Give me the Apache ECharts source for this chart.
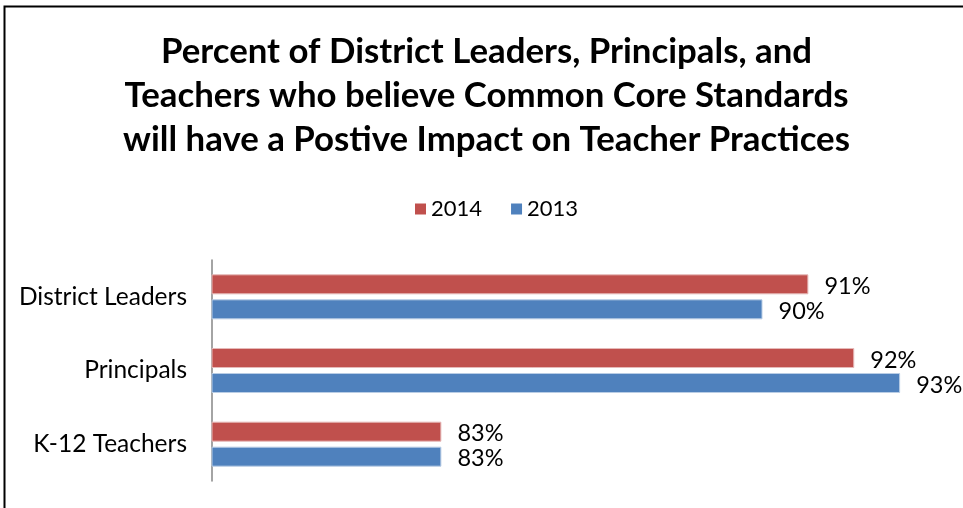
<!DOCTYPE html>
<html>
<head>
<meta charset="utf-8">
<script src="https://cdn.jsdelivr.net/npm/echarts@6/dist/echarts.min.js"></script>
<style>
html,body{margin:0;padding:0;background:#fff;}
#chart{width:963px;height:508px;}
</style>
</head>
<body>
<div id="chart"></div>
<script>
const categories = ['District Leaders', 'Principals', 'K-12 Teachers'];
const values2014 = [91, 92, 83];
const values2013 = [90, 93, 83];
const seriesNames = ['2014', '2013'];
const titleText = 'Percent of District Leaders, Principals, and\nTeachers who believe Common Core Standards\nwill have a Postive Impact on Teacher Practices';

const FONT = 'Lato';
const chart = echarts.init(document.getElementById('chart'), null, {renderer: 'canvas'});
const labelCfg = {
  show: true, position: 'right', distance: 16, offset: [0, 2],
  formatter: '{c}%', fontFamily: FONT, fontSize: 23.5, color: '#000'
};
chart.setOption({
  animation: false,
  backgroundColor: '#fff',
  title: {
    text: titleText, left: '50%', top: 25, textAlign: 'center',
    textStyle: {fontFamily: FONT, fontWeight: 'bold', fontSize: 34.8, lineHeight: 44, color: '#000', align: 'center'}
  },
  legend: {
    data: seriesNames, top: 193, left: 410, itemWidth: 11, itemHeight: 11, itemGap: 29,
    icon: 'rect', itemStyle: {borderWidth: 0},
    textStyle: {fontFamily: FONT, fontSize: 22, color: '#000'}
  },
  grid: {left: 212, right: 17, top: 260, bottom: 27, containLabel: false},
  xAxis: {
    type: 'value', min: 78, max: 94, show: false, splitLine: {show: false}
  },
  yAxis: {
    type: 'category', data: categories, inverse: true,
    axisLine: {show: true, lineStyle: {color: '#868686', width: 1.5}},
    axisTick: {show: false},
    axisLabel: {fontFamily: FONT, fontSize: 24.5, color: '#000', margin: 25}
  },
  series: [
    {name: seriesNames[0], type: 'bar', data: values2014, barWidth: 20, barGap: '25%', barCategoryGap: '40%',
     itemStyle: {color: '#C0504D', borderColor: '#E6B9B8', borderWidth: 1}, label: labelCfg},
    {name: seriesNames[1], type: 'bar', data: values2013, barWidth: 20, barGap: '25%', barCategoryGap: '40%',
     itemStyle: {color: '#4F81BD', borderColor: '#B9CDE5', borderWidth: 1}, label: labelCfg}
  ],
  graphic: [{
    type: 'rect', left: 2, top: 4, shape: {width: 1000, height: 600},
    style: {fill: 'none', stroke: '#000', lineWidth: 2}, silent: true, z: 100
  }]
});
</script>
</body>
</html>
